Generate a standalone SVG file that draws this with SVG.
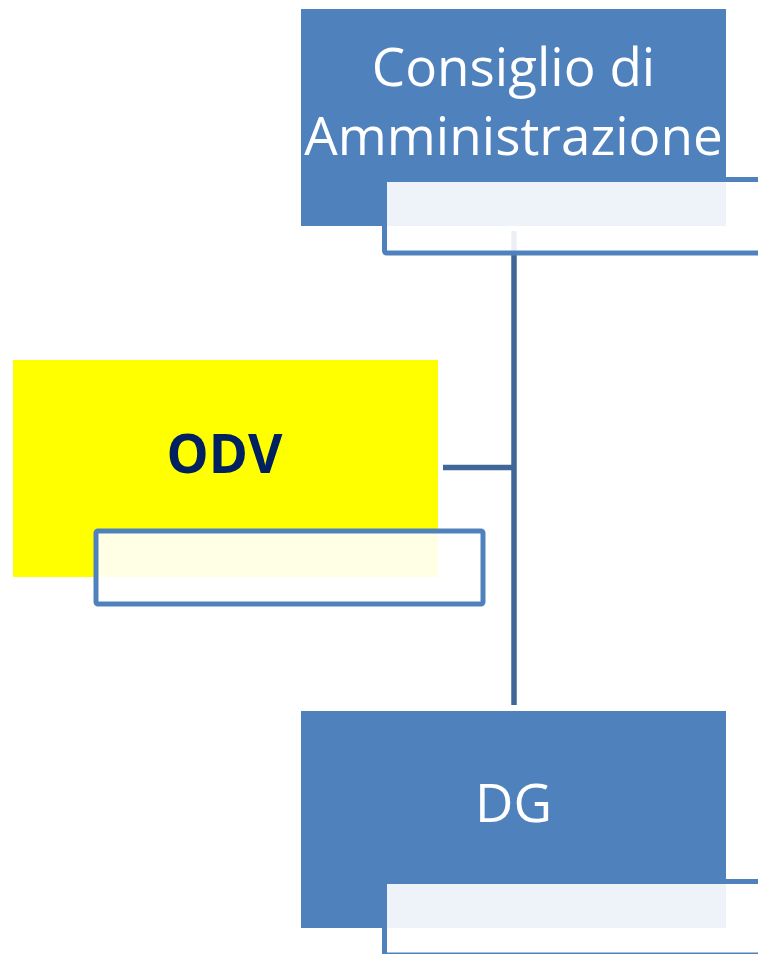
<svg xmlns="http://www.w3.org/2000/svg" width="758" height="954" viewBox="0 0 758 954">
<style>
.box{fill:#4F81BD}
.odv{fill:#FFFF00}
.tb{fill:#FFFFFF;fill-opacity:0.9;stroke:#4F81BD;stroke-width:5}
.lbl{font-family:"Open Sans","Noto Sans",sans-serif;font-size:53px;fill:#FFFFFF;text-anchor:middle}
.lblb{font-family:"Open Sans","Noto Sans",sans-serif;font-size:53px;font-weight:bold;fill:#002060;text-anchor:middle}
.conn{stroke:#3F6898;stroke-width:5.5;fill:none}
</style>
<rect width="758" height="954" fill="#FFFFFF"/>
<g id="connectors">
<line class="conn" x1="514" y1="231" x2="514" y2="705"/>
<line class="conn" x1="443" y1="467.5" x2="514" y2="467.5"/>
</g>
<g id="node-cda">
<rect class="box" x="301" y="9" width="425" height="217"/>
<text class="lbl" x="513.5" y="86">Consiglio di</text>
<text class="lbl" x="513.5" y="155">Amministrazione</text>
<rect class="tb" x="384.5" y="179.5" width="387" height="73.5" rx="2"/>
</g>
<g id="node-odv">
<rect class="odv" x="13" y="360" width="425" height="217"/>
<text class="lblb" x="224.5" y="473">ODV</text>
<rect class="tb" x="96" y="531" width="387" height="73" rx="2"/>
</g>
<g id="node-dg">
<rect class="box" x="301" y="711" width="425" height="217"/>
<text class="lbl" x="513.5" y="822">DG</text>
<rect class="tb" x="384.5" y="881.5" width="387" height="73.5" rx="2"/>
</g>
</svg>
